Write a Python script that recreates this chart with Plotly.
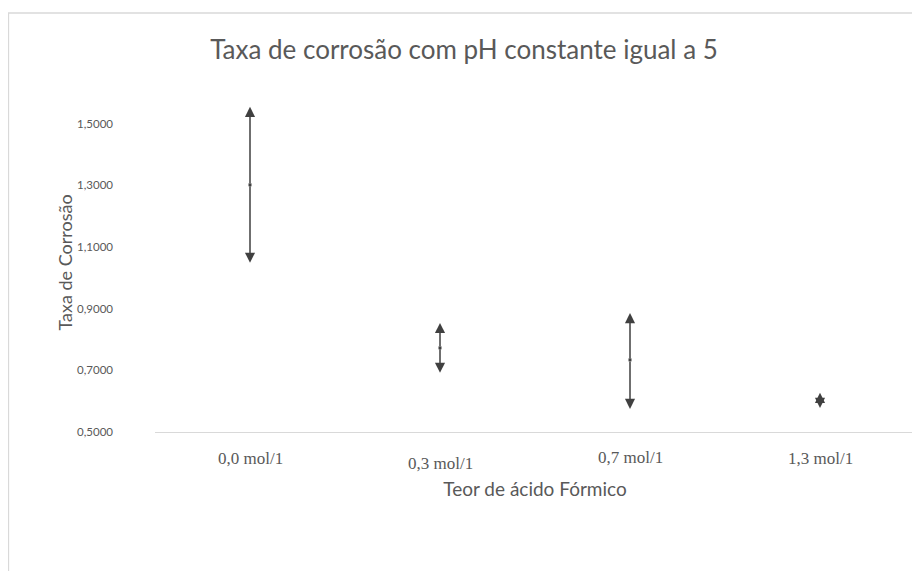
import plotly.graph_objects as go

categories = ["0,0 mol/1", "0,3 mol/1", "0,7 mol/1", "1,3 mol/1"]
high_values = [1.555, 0.854, 0.886, 0.627]
mid_values = [1.302, 0.773, 0.734, 0.602]
low_values = [1.049, 0.692, 0.575, 0.578]
y_ticks = [0.5, 0.7, 0.9, 1.1, 1.3, 1.5]
label_drop = [0, 5, -1, 0]  # small vertical offsets of the category labels (px)

title_text = "Taxa de corrosão com pH constante igual a 5"
x_title = "Teor de ácido Fórmico"
y_title = "Taxa de Corrosão"

arrow_color = "#404040"
text_color = "#595959"
sans = "Lato, Calibri, sans-serif"
serif = "Liberation Serif, Times New Roman, serif"

W, H = 912, 563
L, R, T, B = 147, 5, 85, 139
plot_w = W - L - R
plot_h = H - T - B

fig = go.Figure()
fig.add_trace(go.Scatter(
    x=categories, y=mid_values, mode="markers",
    marker=dict(symbol="square", size=3, color=arrow_color),
    showlegend=False, hoverinfo="skip",
))

annotations = []
for cat, hi, mid, lo in zip(categories, high_values, mid_values, low_values):
    for end in (hi, lo):
        annotations.append(dict(
            x=cat, y=end, ax=cat, ay=mid,
            xref="x", yref="y", axref="x", ayref="y",
            text="", showarrow=True,
            arrowhead=2, arrowsize=1.35, arrowwidth=1.5,
            arrowcolor=arrow_color, standoff=0, startstandoff=0,
        ))

for cat, drop in zip(categories, label_drop):
    annotations.append(dict(
        x=cat, y=0, xref="x", yref="paper", text=cat, showarrow=False,
        xanchor="center", yanchor="middle", yshift=-26 - drop,
        font=dict(family=serif, size=17, color=text_color),
    ))

# rotated y-axis title
annotations.append(dict(
    x=(56 - L) / plot_w, y=0.5, xref="paper", yref="paper",
    text=y_title, showarrow=False, textangle=-90,
    xanchor="center", yanchor="middle",
    font=dict(family=sans, size=18, color=text_color),
))

fig.update_layout(
    width=W, height=H,
    margin=dict(l=L, r=R, t=T, b=B),
    paper_bgcolor="white", plot_bgcolor="white",
    separators=",.",
    title=dict(text=title_text, x=0.5, xref="container", xanchor="center",
               y=1 - 42 / H, yanchor="middle",
               font=dict(family=sans, size=26, color=text_color)),
    xaxis=dict(
        type="category", categoryorder="array", categoryarray=categories,
        range=[-0.5, len(categories) - 0.5],
        showline=True, linecolor="#d9d9d9", linewidth=1,
        showgrid=False, zeroline=False, ticks="", showticklabels=False,
        title=dict(text=x_title, standoff=50,
                   font=dict(family=sans, size=19, color=text_color)),
    ),
    yaxis=dict(
        range=[0.5, 1.6], tickvals=y_ticks, tickformat=".4f",
        showline=False, showgrid=False, zeroline=False, ticks="",
        ticklabelstandoff=41,
        tickfont=dict(family=sans, size=11.5, color=text_color),
    ),
    annotations=annotations,
    shapes=[
        dict(type="line", xref="paper", yref="paper",
             x0=-L / plot_w, x1=(W - L) / plot_w,
             y0=(plot_h + T - 5) / plot_h, y1=(plot_h + T - 5) / plot_h,
             line=dict(color="#d9d9d9", width=1.5)),
        dict(type="line", xref="paper", yref="paper",
             x0=-L / plot_w + 0.0005, x1=-L / plot_w + 0.0005,
             y0=(plot_h + T - 5) / plot_h, y1=-B / plot_h,
             line=dict(color="#d9d9d9", width=1.5)),
    ],
)

fig.write_html("out.html")
